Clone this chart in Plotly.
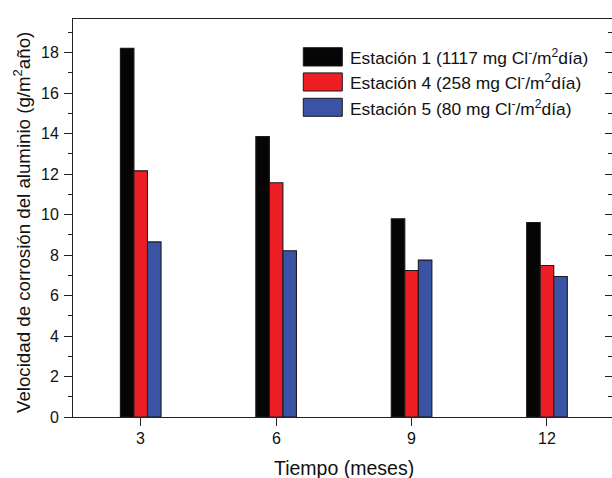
import plotly.graph_objects as go

# ---- data ----
months = [3, 6, 9, 12]
est1 = [18.21, 13.85, 9.79, 9.61]
est4 = [12.16, 11.57, 7.24, 7.48]
est5 = [8.65, 8.21, 7.75, 6.94]
series_names = [
    "Estación 1 (1117 mg Cl<sup>-</sup>/m<sup>2</sup>día)",
    "Estación 4 (258 mg Cl<sup>-</sup>/m<sup>2</sup>día)",
    "Estación 5 (80 mg Cl<sup>-</sup>/m<sup>2</sup>día)",
]
colors = ["#050505", "#ED1F24", "#3A53A4"]
y_ticks = [0, 2, 4, 6, 8, 10, 12, 14, 16, 18]
x_tick_labels = [str(m) for m in months]
y_tick_labels = [str(v) for v in y_ticks]

FONT = "Arial"
W, H = 612, 478
ML, MT, MB, MR = 73, 19, 61, 0
PW = W - ML - MR
PH = H - MT - MB

fig = go.Figure()
for vals, name, col in zip([est1, est4, est5], series_names, colors):
    fig.add_trace(go.Bar(
        x=months, y=vals, name=name, marker=dict(color=col, line=dict(color="#1a1a1a", width=1.1)),
        showlegend=False,
    ))

# invisible trace for right axis
fig.add_trace(go.Scatter(x=[months[0]], y=[0], yaxis="y2", mode="markers",
                         marker=dict(opacity=0), showlegend=False, hoverinfo="skip"))

yr = [0, 19.66]
fig.update_layout(
    width=W, height=H,
    margin=dict(l=ML, r=MR, t=MT, b=MB, pad=0),
    paper_bgcolor="white", plot_bgcolor="white",
    barmode="group", bargap=0.7, bargroupgap=0,
    font=dict(family=FONT, color="#111111", size=16),
    xaxis=dict(
        range=[1.5, 13.44], tickmode="array", tickvals=months, showticklabels=False,
        showline=True, linecolor="#222", linewidth=1.3, mirror=True,
        ticks="outside", ticklen=8, tickwidth=1.3, tickcolor="#222",
        showgrid=False, zeroline=False,
    ),
    yaxis=dict(
        range=yr, tickmode="array", tickvals=y_ticks, showticklabels=False,
        showline=True, linecolor="#222", linewidth=1.3, mirror=False,
        ticks="outside", ticklen=8, tickwidth=1.3, tickcolor="#222",
        minor=dict(ticks="outside", ticklen=4, tickwidth=1.3, tickcolor="#222", dtick=1, tick0=0, showgrid=False),
        showgrid=False, zeroline=False,
    ),
    yaxis2=dict(
        range=yr, overlaying="y", side="right", tickmode="array", tickvals=y_ticks,
        showline=False, showticklabels=False,
        ticks="inside", ticklen=7, tickwidth=1.3, tickcolor="#222",
        minor=dict(ticks="inside", ticklen=4, tickwidth=1.3, tickcolor="#222", dtick=1, tick0=0, showgrid=False),
        showgrid=False, zeroline=False,
    ),
)

def px_x(px):
    return (px - ML) / PW

def px_y(py):
    return (H - MB - py) / PH

# tick labels (placed through the axes' own scales)
for v, t in zip(y_ticks, y_tick_labels):
    fig.add_annotation(xref="paper", yref="y", x=px_x(60.5), y=v, text=t, showarrow=False,
                       xanchor="right", yanchor="middle",
                       font=dict(size=16, family=FONT, color="#111111"))
for m, t in zip(months, x_tick_labels):
    fig.add_annotation(xref="x", yref="paper", x=m, y=px_y(438.5), text=t, showarrow=False,
                       xanchor="center", yanchor="middle",
                       font=dict(size=16, family=FONT, color="#111111"))

# manual legend
rows = [(47.7, 66.0), (72.9, 91.0), (98.3, 116.3)]
for (y0, y1), name, col in zip(rows, series_names, colors):
    fig.add_shape(type="rect", xref="paper", yref="paper",
                  x0=px_x(303.3), x1=px_x(342.3), y0=px_y(y1), y1=px_y(y0),
                  fillcolor=col, line=dict(color="#1a1a1a", width=1))
    fig.add_annotation(xref="paper", yref="paper", x=px_x(347.5), y=px_y((y0 + y1) / 2 + 0.5),
                       text=name, showarrow=False, xanchor="left", yanchor="middle",
                       font=dict(size=17.4, family=FONT, color="#111111"))

# axis titles
fig.add_annotation(xref="paper", yref="paper", x=px_x(344), y=px_y(468),
                   text="Tiempo (meses)", showarrow=False, xanchor="center", yanchor="middle",
                   font=dict(size=19.5, family=FONT, color="#111111"))
fig.add_annotation(xref="paper", yref="paper", x=px_x(22), y=px_y(223),
                   text="Velocidad de corrosión del aluminio (g/m<sup>2</sup>año)", showarrow=False,
                   textangle=-90, xanchor="center", yanchor="middle",
                   font=dict(size=18.7, family=FONT, color="#111111"))

fig.write_html("out.html")
